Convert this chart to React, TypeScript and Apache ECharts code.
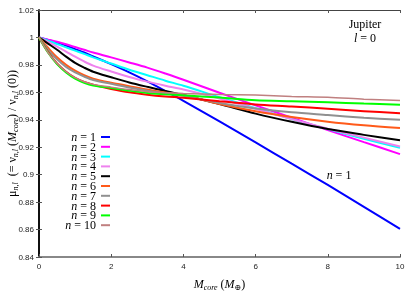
import React, { useEffect, useRef } from 'react';
import * as echarts from 'echarts';

const xs = [0, 0.25, 0.5, 0.75, 1, 1.25, 1.5, 2, 2.5, 3, 3.5, 4, 5, 6, 7, 8, 9, 10];
const n1 = [1, 0.9982, 0.9962, 0.994, 0.9915, 0.989, 0.9862, 0.9805, 0.9745, 0.968, 0.961, 0.9538, 0.9388, 0.9235, 0.908, 0.8925, 0.8765, 0.8605];
const n2 = [1, 0.9984, 0.9968, 0.995, 0.993, 0.991, 0.989, 0.9855, 0.9818, 0.978, 0.9737, 0.9692, 0.9597, 0.9505, 0.9415, 0.9325, 0.9237, 0.915];
const n3 = [1, 0.9977, 0.9952, 0.9928, 0.9904, 0.988, 0.9855, 0.981, 0.9765, 0.9725, 0.9685, 0.9648, 0.9565, 0.9485, 0.9405, 0.9332, 0.9262, 0.9196];
const n4 = [1, 0.9967, 0.9933, 0.9897, 0.986, 0.9825, 0.9795, 0.9752, 0.9712, 0.9678, 0.9648, 0.962, 0.9555, 0.948, 0.9405, 0.9335, 0.927, 0.9205];
const n5 = [1, 0.9955, 0.991, 0.986, 0.9815, 0.978, 0.975, 0.971, 0.9672, 0.964, 0.961, 0.958, 0.9515, 0.9445, 0.9385, 0.9332, 0.929, 0.925];
const n6 = [1, 0.9925, 0.9855, 0.98, 0.9758, 0.9725, 0.97, 0.967, 0.9645, 0.962, 0.9598, 0.9578, 0.9515, 0.9462, 0.942, 0.9386, 0.936, 0.934];
const n7 = [1, 0.991, 0.984, 0.9785, 0.9745, 0.9715, 0.969, 0.9662, 0.9635, 0.9612, 0.9592, 0.9575, 0.9522, 0.9482, 0.9455, 0.9435, 0.9415, 0.94];
const n8 = [1, 0.9895, 0.981, 0.975, 0.9705, 0.9675, 0.9655, 0.9625, 0.96, 0.9583, 0.957, 0.956, 0.9535, 0.9512, 0.9497, 0.948, 0.9463, 0.9447];
const n9 = [1, 0.989, 0.9805, 0.9745, 0.97, 0.967, 0.965, 0.9632, 0.9612, 0.9595, 0.9586, 0.9578, 0.9562, 0.9542, 0.9535, 0.9527, 0.9518, 0.951];
const n10 = [1, 0.989, 0.981, 0.975, 0.9707, 0.9677, 0.9658, 0.9638, 0.962, 0.9605, 0.9597, 0.9592, 0.9585, 0.958, 0.957, 0.9564, 0.955, 0.954];

const seriesValues = [n1, n2, n3, n4, n5, n6, n7, n8, n9, n10];
const seriesNames = ['n = 1', 'n = 2', 'n = 3', 'n = 4', 'n = 5', 'n = 6', 'n = 7', 'n = 8', 'n = 9', 'n = 10'];
const colors = ['#0000ff', '#ff00ff', '#00ffff', '#ee82ee', '#000000', '#ff5a1a', '#909090', '#ff0000', '#00ff00', '#c08080'];
const widths = [2, 2, 2, 2, 2, 2, 2, 2, 2, 1.5];

const SERIF = '"Liberation Serif", "DejaVu Serif", serif';
const SANS = '"Liberation Sans", Arial, sans-serif';

export default function App() {
  const ref = useRef<HTMLDivElement>(null);
  useEffect(() => {
    if (!ref.current) return;
    const chart = echarts.init(ref.current, null, { renderer: 'svg' });
    const sub = { fontFamily: SERIF, fontSize: 8, fontStyle: 'italic', verticalAlign: 'bottom', lineHeight: 14, color: '#000' };
    const main = { fontFamily: SERIF, fontSize: 12, verticalAlign: 'middle', lineHeight: 14, color: '#000' };
    const it = { ...main, fontStyle: 'italic' };
    const option: any = {
      animation: false,
      grid: { left: 39, right: 15, top: 10, bottom: 34, outerBoundsMode: 'none', containLabel: false },
      legend: {
        orient: 'vertical',
        align: 'right',
        right: 305,
        top: 131,
        padding: 0,
        itemGap: -2.2,
        itemWidth: 9,
        itemHeight: 2,
        icon: 'rect',
        data: seriesNames,
        formatter: (name: string) => name.replace('n', '{i|n}'),
        textStyle: {
          fontFamily: SERIF,
          fontSize: 12,
          lineHeight: 12,
          color: '#000',
          rich: { i: { fontFamily: SERIF, fontSize: 12, fontStyle: 'italic', lineHeight: 12, color: '#000' } },
        },
      },
      xAxis: [
        {
          type: 'value', min: 0, max: 10, interval: 2, position: 'bottom',
          axisLine: { lineStyle: { color: '#888', width: 2 } },
          axisTick: { inside: true, length: 3, lineStyle: { color: '#555' } },
          axisLabel: { fontSize: 8, fontFamily: SANS, color: '#222', margin: 5 },
          splitLine: { show: false },
          name: '{it|M}{sub|core}{t| (}{it|M}{sub2|⊕}{t|)}',
          nameLocation: 'middle',
          nameGap: 20,
          nameMoveOverlap: false,
          nameTextStyle: { rich: { it, sub, sub2: { ...sub, fontStyle: 'normal' }, t: main } },
        },
        {
          type: 'value', min: 0, max: 10, interval: 2, position: 'top',
          axisLine: { lineStyle: { color: '#444', width: 1 } },
          axisTick: { inside: true, length: 3, lineStyle: { color: '#555' } },
          axisLabel: { show: false },
          splitLine: { show: false },
        },
      ],
      yAxis: [
        {
          type: 'value', min: 0.84, max: 1.02, interval: 0.02, position: 'left',
          axisLine: { show: true, lineStyle: { color: '#000', width: 1.5 } },
          axisTick: { show: true, inside: true, length: 3, lineStyle: { color: '#555' } },
          axisLabel: { fontSize: 8, fontFamily: SANS, color: '#222', margin: 5, formatter: (v: number) => String(+v.toFixed(2)) },
          splitLine: { show: false },
          name: '{mu|μ}{sub|n,l}{t|  (= ν}{sub|n,l}{t| (}{it|M}{sub|core}{t|) / ν}{sub|n,l}{t| (0))}',
          nameLocation: 'middle',
          nameGap: 20,
          nameMoveOverlap: false,
          nameTextStyle: { rich: { mu: main, it, sub, t: main } },
        },
        {
          type: 'value', min: 0.84, max: 1.02, interval: 0.02, position: 'right',
          axisLine: { show: true, lineStyle: { color: '#000', width: 1.5 } },
          axisTick: { show: true, inside: true, length: 3, lineStyle: { color: '#555' } },
          axisLabel: { show: false },
          splitLine: { show: false },
        },
      ],
      series: seriesValues.map((vals, i) => ({
        name: seriesNames[i],
        type: 'line',
        xAxisIndex: 0,
        yAxisIndex: 0,
        smooth: 0.3,
        showSymbol: false,
        symbol: 'none',
        color: colors[i],
        lineStyle: { color: colors[i], width: widths[i] },
        data: xs.map((x, j) => [x, vals[j]]),
      })),
      graphic: [
        { type: 'text', x: 365, y: 24, style: { text: 'Jupiter', fontFamily: SERIF, fontSize: 12, fill: '#000', align: 'center', verticalAlign: 'middle' } },
        { type: 'text', x: 365, y: 38, style: { text: '{i|l} = 0', fontFamily: SERIF, fontSize: 12, fill: '#000', align: 'center', verticalAlign: 'middle', rich: { i: { fontFamily: SERIF, fontSize: 12, fontStyle: 'italic' } } } },
        { type: 'text', x: 339, y: 175, style: { text: '{i|n} = 1', fontFamily: SERIF, fontSize: 12, fill: '#000', align: 'center', verticalAlign: 'middle', rich: { i: { fontFamily: SERIF, fontSize: 12, fontStyle: 'italic' } } } },
      ],
    };
    chart.setOption(option);
    return () => chart.dispose();
  }, []);
  return <div ref={ref} style={{ position: 'fixed', left: 0, top: 0, width: 415, height: 291 }} />;
}
